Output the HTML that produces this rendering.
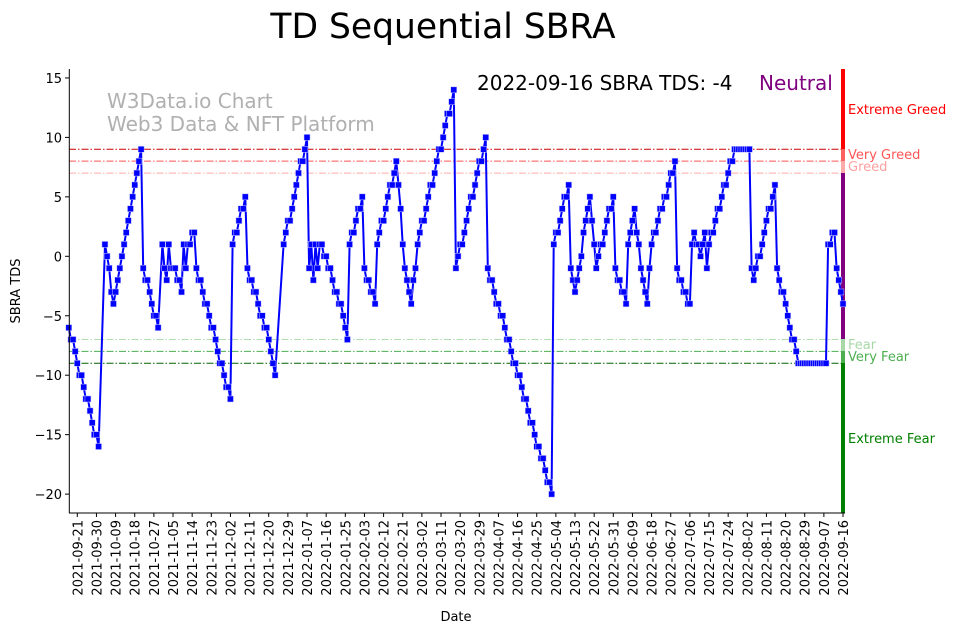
<!DOCTYPE html>
<html><head><meta charset="utf-8"><style>
body{margin:0;background:#fff;}
svg{display:block;font-family:"DejaVu Sans","Liberation Sans",sans-serif;}
</style></head><body>
<svg id="s" width="962" height="633" xmlns="http://www.w3.org/2000/svg">
<text x="443" y="38" font-size="34.5" text-anchor="middle" fill="#000">TD Sequential SBRA</text>
<text x="107" y="108" font-size="20" fill="#b0b0b0">W3Data.io Chart</text>
<text x="107" y="131" font-size="20" fill="#b0b0b0">Web3 Data &amp; NFT Platform</text>
<text x="477" y="90" font-size="20" fill="#000">2022-09-16 SBRA TDS: -4</text>
<text x="759" y="90" font-size="20" fill="#800080">Neutral</text>
<g id="g"></g>
<line x1="69.3" y1="69" x2="69.3" y2="513" stroke="#000" stroke-width="1"/>
<line x1="69" y1="513" x2="845" y2="513" stroke="#000" stroke-width="1"/>
<text x="20" y="291" font-size="13" text-anchor="middle" transform="rotate(-90 20 291)">SBRA TDS</text>
<text x="456" y="621" font-size="13" text-anchor="middle">Date</text>
<text x="848" y="114" font-size="13" fill="#ff0000">Extreme Greed</text>
<text x="848" y="159" font-size="13" fill="#ff5555">Very Greed</text>
<text x="848" y="171" font-size="13" fill="#ffa0a0">Greed</text>
<text x="848" y="349" font-size="13" fill="#a8d8a8">Fear</text>
<text x="848" y="361" font-size="13" fill="#4caf50">Very Fear</text>
<text x="848" y="443" font-size="13" fill="#008000">Extreme Fear</text>
</svg>
<script>
const NS="http://www.w3.org/2000/svg",g=document.getElementById('g');
function el(t,a){const e=document.createElementNS(NS,t);for(const k in a)e.setAttribute(k,a[k]);g.appendChild(e);return e;}
const Y=v=>256.3-11.89*v, X=d=>77.3+d*2.127;
[[9,'#cc0000'],[8,'#ff5555'],[7,'#ffaaaa'],[-7,'#b0dcb0'],[-8,'#4caf50'],[-9,'#006400']].forEach(([v,c])=>el('line',{x1:69,x2:843,y1:Y(v),y2:Y(v),stroke:c,'stroke-width':1,'stroke-dasharray':'7,2,1.5,2'}));
[[69,149.3,'#ff0000'],[149.3,161,'#ff6060'],[161,173,'#ffaaaa'],[173,339,'#800080'],[339,351,'#a8d8a8'],[351,363,'#4caf50'],[363,513,'#008000']].forEach(([a,b,c])=>el('rect',{x:841,y:a,width:4,height:b-a,fill:c}));
for(let v=15;v>=-20;v-=5){el('line',{x1:65,x2:69.3,y1:Y(v),y2:Y(v),stroke:'#000'});const t=el('text',{x:62,y:Y(v)+5,'font-size':13,'text-anchor':'end'});t.textContent=String(v).replace('-','\u2212');}
const base=new Date(Date.UTC(2021,8,21));
for(let d=0;d<=360;d+=9){const x=X(d);el('line',{x1:x,x2:x,y1:513,y2:517,stroke:'#000'});const dt=new Date(base.getTime()+d*864e5);const s=dt.toISOString().slice(0,10);const t=el('text',{x:x+5,y:520,'font-size':13,'text-anchor':'end',transform:`rotate(-90 ${x+5} 520)`});t.textContent=s;}
const V=[[69.3,-6],[98.3,-16],[105,1],[113.3,-4],[141,9],[143,-1],[158.3,-6],[163.3,1],[165.5,-1],[167.5,-2],[169.5,1],[171.5,-1],[175.5,-1],[181.7,-3],[183.3,1],[186,-1],[188.3,1],[194.3,2],[196.3,-1],[230.3,-12],[232.3,1],[245,5],[247.3,-1],[268,-7],[272.7,-9],[275,-10],[284,1],[307.3,10],[310,-1],[312,1],[314,-2],[316,1],[318,-1],[320,1],[322.7,1],[344,-5],[347.3,-7],[349.3,1],[362.3,5],[364.3,-1],[375.3,-4],[377,1],[396.7,8],[405,-1],[411.3,-4],[418.3,1],[454.3,14],[456.3,-1],[486.3,10],[488.5,-1],[552.3,-20],[554.3,1],[569.3,6],[571.3,-1],[575.3,-3],[590.3,5],[596.3,-1],[614,5],[616,-1],[626,-4],[628.3,1],[635.3,4],[641,-1],[648.3,-4],[650.7,1],[675.3,8],[677.7,-1],[680.3,-2],[690.3,-4],[692.3,1],[694.3,2],[701.3,0],[703.3,1],[705.3,2],[707.3,-1],[709.3,1],[735.3,9],[750,9],[752,-1],[754.3,-2],[775.3,6],[777.5,-1],[798.3,-9],[826.7,-9],[829,1],[835.3,2],[837.3,-1],[839.5,-2],[841.5,-3],[843.3,-4]];
let pts=[];let last=-999;
for(let i=0;i<V.length;i++){let d=Math.round((V[i][0]-77.3)/2.127);if(d<=last)d=last+1;
 if(i>0&&pts.length){const [d0,v0]=pts[pts.length-1];const dv=V[i][1]-v0;
  if(Math.abs(dv)/(d-d0)<=2.5){for(let k=d0+1;k<d;k++){pts.push([k,Math.round(v0+dv*(k-d0)/(d-d0))]);}}}
 pts.push([d,V[i][1]]);last=d;}
el('polyline',{points:pts.map(p=>X(p[0]).toFixed(1)+','+Y(p[1]).toFixed(1)).join(' '),fill:'none',stroke:'#0000ff','stroke-width':2});
pts.forEach(p=>el('rect',{x:X(p[0])-3,y:Y(p[1])-3,width:6,height:6,fill:'#0000ff',stroke:'#c8c8ff','stroke-width':0.5}));
</script>
</body></html>
